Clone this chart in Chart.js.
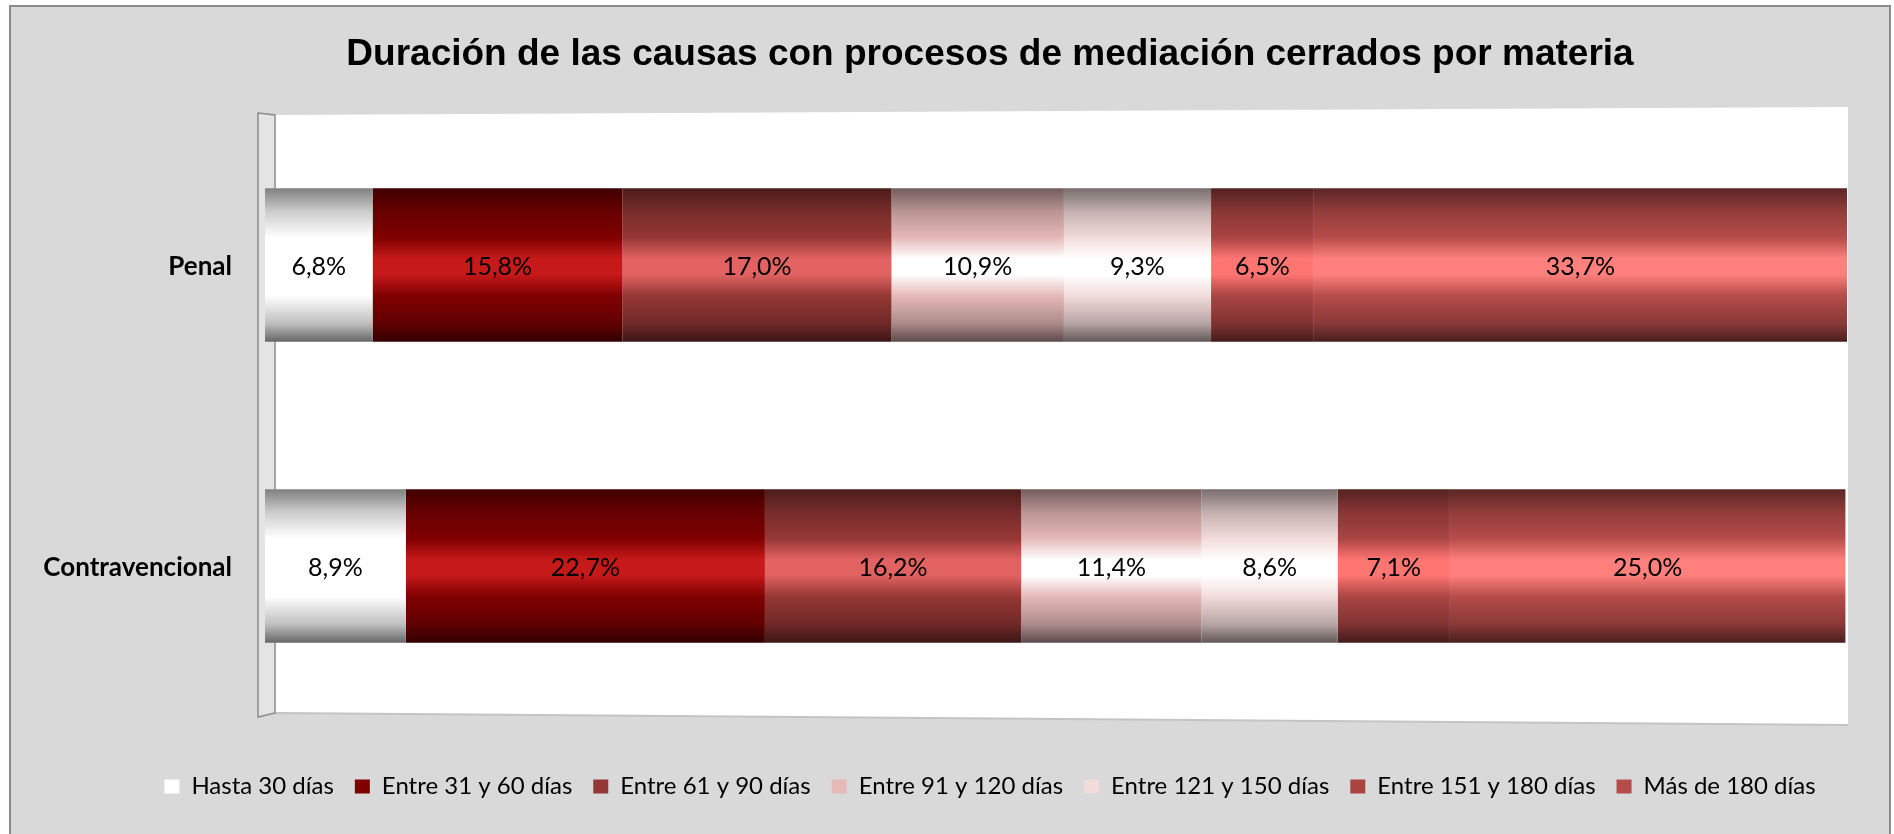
<!DOCTYPE html>
<html>
<head>
<meta charset="utf-8">
<script src="https://cdn.jsdelivr.net/npm/chart.js@4.4.1/dist/chart.umd.min.js"></script>
<style>
html,body{margin:0;padding:0;background:#fff;overflow:hidden}
#wrap{width:1894px;height:834px;position:relative}
</style>
</head>
<body>
<div id="wrap"><canvas id="c" width="1894" height="834"></canvas></div>
<script>
const titleText = 'Duración de las causas con procesos de mediación cerrados por materia';
const categories = ['Penal', 'Contravencional'];
const seriesLabels = ['Hasta 30 días', 'Entre 31 y 60 días', 'Entre 61 y 90 días', 'Entre 91 y 120 días', 'Entre 121 y 150 días', 'Entre 151 y 180 días', 'Más de 180 días'];
const penalValues = [6.8, 15.8, 17.0, 10.9, 9.3, 6.5, 33.7];
const contravencionalValues = [8.9, 22.7, 16.2, 11.4, 8.6, 7.1, 25.0];
const seriesColors = ['#ffffff', '#800000', '#953735', '#e6b9b8', '#f2dcdb', '#aa4442', '#b64c49'];

const BAR_PCT = 0.51;

function hexToRgb(h) {
  const n = parseInt(h.slice(1), 16);
  return [(n >> 16) & 255, (n >> 8) & 255, n & 255];
}
function mix(c, t, a) { return c.map((v, i) => Math.round(v + (t[i] - v) * a)); }
function rgbStr(c) { return 'rgb(' + c[0] + ',' + c[1] + ',' + c[2] + ')'; }

function barFill(ctx) {
  const chart = ctx.chart;
  const base = seriesColors[ctx.datasetIndex];
  const y = chart.scales.y;
  if (!y || !chart.chartArea || ctx.type !== 'data') return base;
  const band = Math.abs(y.getPixelForValue(1) - y.getPixelForValue(0));
  const half = band * BAR_PCT / 2;
  const cy = y.getPixelForValue(ctx.dataIndex);
  const g = chart.ctx.createLinearGradient(0, cy - half, 0, cy + half);
  const c = hexToRgb(base);
  const hi = c.map(v => Math.min(255, Math.round(v * 1.35 + 25)));
  const k = [0, 0, 0];
  g.addColorStop(0, rgbStr(mix(c, k, 0.5)));
  g.addColorStop(0.15, rgbStr(mix(c, k, 0.2)));
  g.addColorStop(0.32, rgbStr(c));
  g.addColorStop(0.46, rgbStr(hi));
  g.addColorStop(0.56, rgbStr(hi));
  g.addColorStop(0.7, rgbStr(c));
  g.addColorStop(0.88, rgbStr(mix(c, k, 0.25)));
  g.addColorStop(1, rgbStr(mix(c, k, 0.6)));
  return g;
}

const decor = {
  id: 'decor',
  beforeDraw(chart) {
    const ctx = chart.ctx, a = chart.chartArea;
    ctx.save();
    ctx.fillStyle = '#ffffff';
    ctx.fillRect(0, 0, chart.width, chart.height);
    ctx.fillStyle = '#d9d9d9';
    ctx.fillRect(10, 6, 1880, 840);
    ctx.strokeStyle = '#8c8c8c';
    ctx.lineWidth = 2;
    ctx.strokeRect(10, 6, 1880, 840);
    // plot back wall
    ctx.fillStyle = '#ffffff';
    ctx.beginPath();
    ctx.moveTo(a.left + 10, a.top + 0.5);
    ctx.lineTo(a.right + 1, a.top - 7.5);
    ctx.lineTo(a.right + 1, a.bottom + 8.5);
    ctx.lineTo(a.left + 10, a.bottom - 3.5);
    ctx.closePath();
    ctx.fill();
    // floor edge
    ctx.strokeStyle = '#c4c4c4';
    ctx.lineWidth = 2;
    ctx.beginPath();
    ctx.moveTo(a.left - 7, a.bottom + 0.5);
    ctx.lineTo(a.left + 10, a.bottom - 3.5);
    ctx.lineTo(a.right + 1, a.bottom + 8.5);
    ctx.stroke();
    // side wall
    ctx.fillStyle = '#e4e4e4';
    ctx.beginPath();
    ctx.moveTo(a.left - 7, a.top - 1.5);
    ctx.lineTo(a.left + 10, a.top + 0.5);
    ctx.lineTo(a.left + 10, a.bottom - 3.5);
    ctx.lineTo(a.left - 7, a.bottom + 0.5);
    ctx.closePath();
    ctx.fill();
    ctx.strokeStyle = '#8c8c8c';
    ctx.lineWidth = 1.5;
    ctx.stroke();
    ctx.restore();
  }
};

const textLayer = {
  id: 'textLayer',
  afterDatasetsDraw(chart) {
    const ctx = chart.ctx;
    const yScale = chart.scales.y;
    ctx.save();
    ctx.fillStyle = '#000000';
    ctx.textBaseline = 'middle';
    // category labels of the y axis
    ctx.font = 'bold 26px Lato';
    ctx.textAlign = 'right';
    categories.forEach((cat, i) => {
      ctx.fillText(cat, chart.chartArea.left - 33, yScale.getPixelForValue(i) + 2);
    });
    // value labels
    ctx.font = '25px Lato';
    ctx.textAlign = 'center';
    chart.data.datasets.forEach((ds, di) => {
      const meta = chart.getDatasetMeta(di);
      meta.data.forEach((el, i) => {
        const v = ds.data[i];
        ctx.fillText(v.toFixed(1).replace('.', ',') + '%', (el.x + el.base) / 2, el.y + 2);
      });
    });
    ctx.restore();
  }
};

function build() {
  const datasets = seriesLabels.map((label, i) => ({
    label: label,
    data: [penalValues[i], contravencionalValues[i]],
    backgroundColor: barFill,
    borderWidth: 0,
    barPercentage: BAR_PCT,
    categoryPercentage: 1
  }));

  new Chart(document.getElementById('c'), {
    type: 'bar',
    data: { labels: categories, datasets: datasets },
    options: {
      indexAxis: 'y',
      responsive: false,
      animation: false,
      events: [],
      layout: { padding: { left: 133, right: 47, top: 0, bottom: 25.5 } },
      scales: {
        x: {
          stacked: true, min: 0, max: 100, display: true,
          grid: { display: false, drawTicks: true, tickLength: 37 },
          border: { display: false },
          ticks: { display: false }
        },
        y: {
          stacked: true,
          grid: { display: false, drawTicks: false },
          border: { display: false },
          ticks: { display: false },
          afterFit(s) { s.width = 132; }
        }
      },
      plugins: {
        title: {
          display: true, text: titleText, color: '#000000',
          font: { family: '"Liberation Sans", Arial, sans-serif', size: 37, weight: 'bold' },
          padding: { top: 32.7, bottom: 37.4 }
        },
        legend: {
          display: true, position: 'bottom',
          labels: {
            boxWidth: 15, boxHeight: 14, padding: 21, color: '#000000',
            font: { family: 'Lato', size: 24 },
            generateLabels() {
              return seriesLabels.map((t, i) => ({
                text: t, fillStyle: seriesColors[i], strokeStyle: seriesColors[i],
                lineWidth: 0, hidden: false, datasetIndex: i, fontColor: '#000000'
              }));
            }
          }
        },
        tooltip: { enabled: false }
      }
    },
    plugins: [decor, textLayer]
  });
}

Promise.all([
  document.fonts.load('bold 26px Lato'),
  document.fonts.load('24px Lato'),
  document.fonts.load('bold 37px "Liberation Sans"')
]).then(build, build);
</script>
</body>
</html>
